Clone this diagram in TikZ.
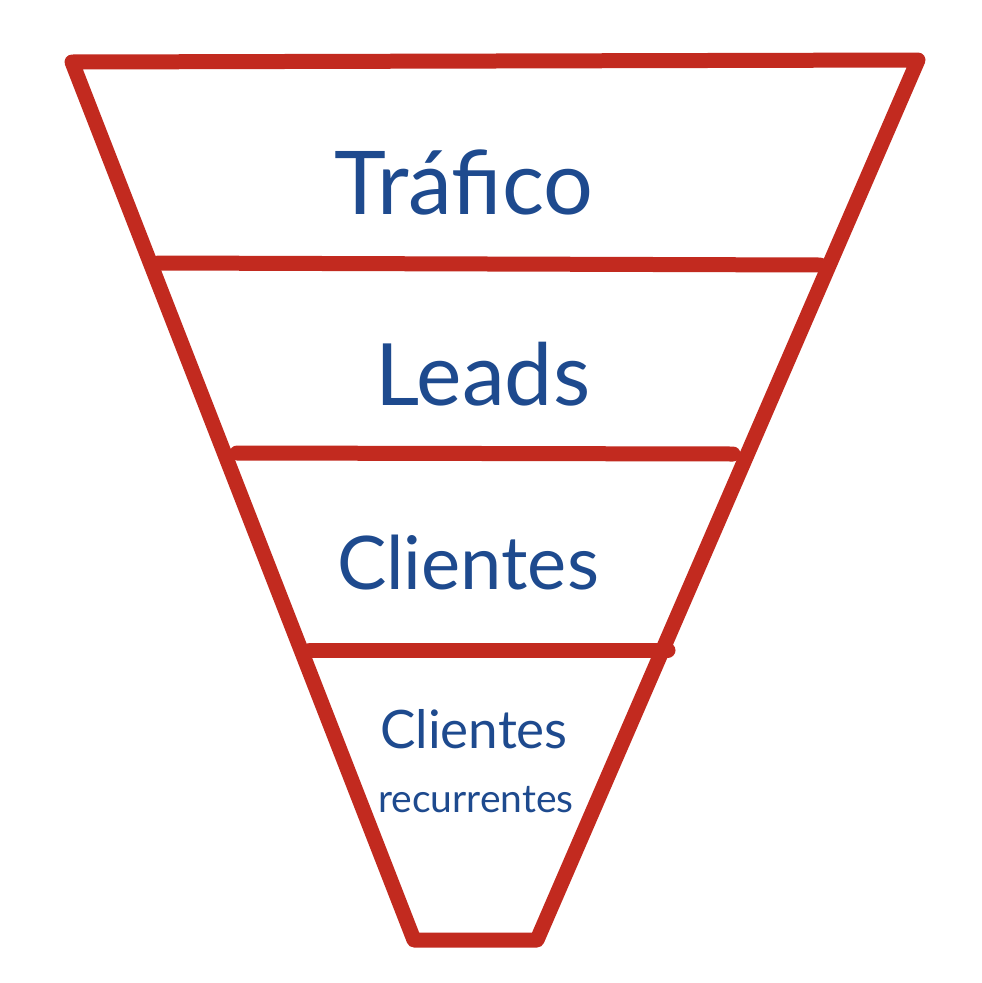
\documentclass[tikz,border=0pt]{standalone}
\usepackage{fontspec}
\setmainfont{Lato}
\definecolor{funnelred}{HTML}{C22A1F}
\definecolor{inkblue}{HTML}{1E4A8E}
\begin{document}
\begin{tikzpicture}[x=1pt,y=-1pt,
  funnel/.style={draw=funnelred,line width=15pt,line cap=round,line join=round},
  lbl/.style={text=inkblue,inner sep=0pt,anchor=base}]
\useasboundingbox[fill=white] (0,0) rectangle (982,983);
\coordinate (tl) at (72,62);
\coordinate (tr) at (918,60);
\coordinate (br) at (537,940);
\coordinate (bl) at (414,940);
\draw[funnel] (tl) -- (tr) -- (br) -- (bl) -- cycle;
\coordinate (a1) at (158,263); \coordinate (a2) at (820,265);
\coordinate (b1) at (237,453); \coordinate (b2) at (733,454);
\coordinate (c1) at (310,650); \coordinate (c2) at (668,650);
\draw[funnel] (a1) -- (a2);
\draw[funnel] (b1) -- (b2);
\draw[funnel] (c1) -- (c2);
\node[lbl,font=\fontsize{88}{96}\selectfont] (t1) at (464,214) {Tráfico};
\node[lbl,font=\fontsize{86}{94}\selectfont] (t2) at (483,405) {Leads};
\node[lbl,font=\fontsize{74}{84}\selectfont] (t3) at (468,589) {Clientes};
\node[lbl,font=\fontsize{53}{60}\selectfont] (t4) at (474,748) {Clientes};
\node[lbl,font=\fontsize{39}{46}\selectfont] (t5) at (476,812) {recurrentes};
\end{tikzpicture}
\end{document}
